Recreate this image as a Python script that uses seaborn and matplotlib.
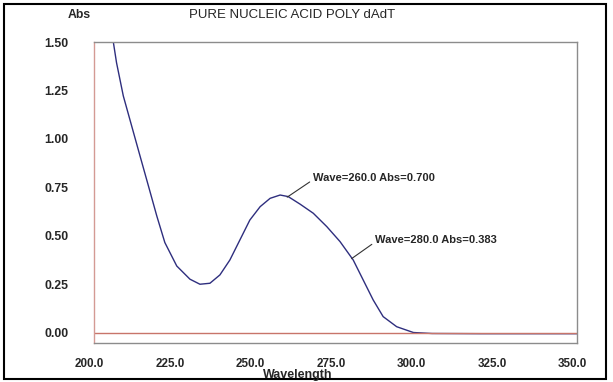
import matplotlib
matplotlib.use("Agg")
import matplotlib.pyplot as plt
import matplotlib.transforms as mtransforms
import seaborn as sns
import pandas as pd
from matplotlib.patches import Rectangle

# ---- data ----
wavelength = [206.0, 207.0, 209.1, 211.7, 214.3, 216.9, 219.5, 222.0, 225.7,
              229.8, 232.9, 236.0, 239.1, 242.2, 245.3, 248.4, 251.6, 254.7,
              257.8, 260.3, 264.0, 268.1, 272.3, 276.4, 280.5, 283.6, 286.7,
              289.8, 294.0, 299.2, 305.0, 320.0, 335.0, 350.0]
absorbance = [1.500, 1.393, 1.222, 1.067, 0.912, 0.758, 0.603, 0.466, 0.345,
              0.277, 0.251, 0.256, 0.299, 0.376, 0.479, 0.582, 0.651, 0.694,
              0.711, 0.703, 0.664, 0.617, 0.548, 0.471, 0.376, 0.273, 0.170,
              0.084, 0.032, 0.002, -0.003, -0.004, -0.004, -0.004]
x_ticks = [200, 225, 250, 275, 300, 325, 350]
x_tick_labels = ["200.0", "225.0", "250.0", "275.0", "300.0", "325.0", "350.0"]
y_ticks = [0.00, 0.25, 0.50, 0.75, 1.00, 1.25, 1.50]
y_tick_labels = ["0.00", "0.25", "0.50", "0.75", "1.00", "1.25", "1.50"]
annot_points = [(260.0, 0.700), (280.0, 0.383)]
title = "PURE NUCLEIC ACID POLY dAdT"

sns.set_style("white")
plt.rcParams["font.family"] = ["Liberation Sans", "DejaVu Sans"]

W, H = 613, 382
fig = plt.figure(figsize=(W / 100, H / 100), dpi=100)
fig.patch.set_facecolor("white")
ax = fig.add_axes([94 / W, 1 - 343 / H, (577 - 94) / W, (343 - 42) / H])

df = pd.DataFrame({"Wavelength": wavelength, "Abs": absorbance})
sns.lineplot(data=df, x="Wavelength", y="Abs", ax=ax, color="#2e2e7e",
             linewidth=1.0)
ax.axhline(0.0, color="#c8756a", linewidth=1.0)

ax.set_xlim(200, 350)
ax.set_ylim(-0.052, 1.5)
ax.set_xticks(x_ticks)
ax.set_xticklabels(x_tick_labels)
ax.set_yticks(y_ticks)
ax.set_yticklabels(y_tick_labels)
ax.tick_params(axis="y", length=0, labelsize=8.8, pad=18.5)
ax.tick_params(axis="x", length=0, labelsize=8.4, pad=10.5)
shift = mtransforms.ScaledTranslation(-4.5 / 100, 0, fig.dpi_scale_trans)
for lab in ax.get_xticklabels():
    lab.set_fontweight("bold")
    lab.set_transform(lab.get_transform() + shift)
for lab in ax.get_yticklabels():
    lab.set_fontweight("bold")
ax.set_xlabel("")
ax.set_ylabel("")

for side in ["top", "right", "bottom"]:
    ax.spines[side].set_color("#8c8c8c")
    ax.spines[side].set_linewidth(1.0)
ax.spines["left"].set_color("#d49a94")
ax.spines["left"].set_linewidth(1.0)

text_pos = [(268.0, 0.80), (287.3, 0.479)]
for (xv, yv), (tx, ty) in zip(annot_points, text_pos):
    ax.annotate(f"Wave={xv:.1f} Abs={yv:.3f}", xy=(xv, yv), xytext=(tx, ty),
                ha="left", va="center", fontsize=8, fontweight="bold",
                arrowprops=dict(arrowstyle="-", color="#333333", lw=0.8,
                                shrinkA=0, shrinkB=0, relpos=(0, 0.3)))

fig.text(292 / W, 1 - 15 / H, title, ha="center", va="center", fontsize=9.5)
fig.text(79 / W, 1 - 15 / H, "Abs", ha="center", va="center", fontsize=8.8,
         fontweight="bold")
fig.text(298 / W, 1 - 375 / H, "Wavelength", ha="center", va="center",
         fontsize=9, fontweight="bold")

fig.patches.append(Rectangle((3.5 / W, 3.5 / H), (606 - 3.5) / W, (378.5 - 3.5) / H,
                             transform=fig.transFigure, fill=False,
                             edgecolor="black", linewidth=1.5))

fig.savefig("out.png", dpi=100, facecolor="white")
